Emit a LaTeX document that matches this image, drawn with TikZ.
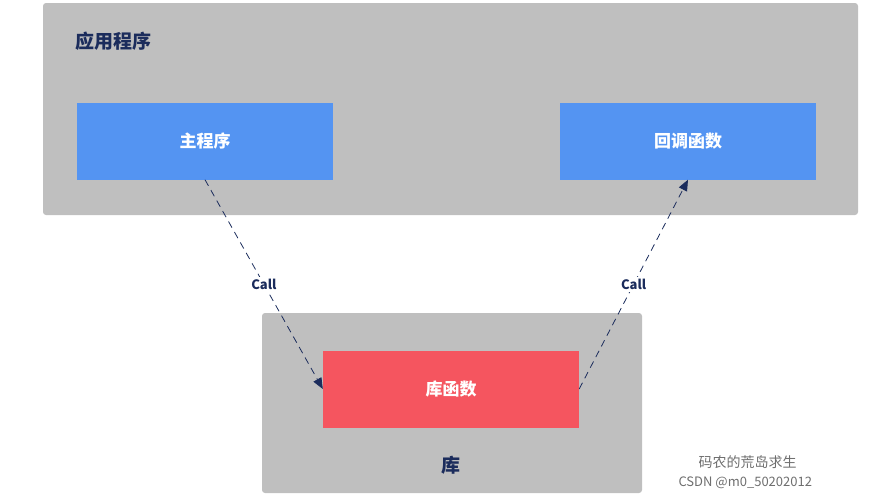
\documentclass[tikz,border=0pt]{standalone}
\usepackage{fontspec}
\setmainfont{Noto Sans CJK SC}
\usetikzlibrary{arrows.meta}
\definecolor{grayb}{HTML}{BFBFBF}
\definecolor{blueb}{HTML}{5494F2}
\definecolor{redb}{HTML}{F5555F}
\definecolor{navy}{HTML}{1B2C5C}
\definecolor{wm}{HTML}{6E6E6E}
\begin{document}
\begin{tikzpicture}[x=1pt,y=-1pt,
  panel/.style={fill=grayb,draw=none,rounded corners=3pt},
  card/.style={draw=none,minimum width=256pt,minimum height=77pt,text=white,font=\bfseries\fontsize{17}{20}\selectfont},
  ttl/.style={text=navy,font=\bfseries\fontsize{19}{22}\selectfont},
  call/.style={draw=navy,thick,dash pattern=on 7pt off 5pt,-{Triangle[length=11pt,width=9pt]}},
  lbl/.style={text=navy,font=\bfseries\fontsize{13}{15}\selectfont,fill=white,inner sep=2pt}]
\useasboundingbox (0,0) rectangle (895,501);
\fill[panel] (43,3) rectangle (858,215);
\fill[panel] (262,313) rectangle (642,493);
\node[ttl,anchor=west] (app) at (72,41) {应用程序};
\node[ttl] (libt) at (451,465) {库};
\node[card,fill=blueb] (main) at (205,141) {主程序};
\node[card,fill=blueb] (cb) at (688,141) {回调函数};
\node[card,fill=redb] (lib) at (451,389) {库函数};
\draw[call] (main.south) -- node[lbl,pos=0.5] {Call} (lib.west);
\draw[call] (lib.east) -- node[lbl,pos=0.5] {Call} (cb.south);
\node[text=wm,font=\fontsize{14}{16}\selectfont,anchor=west] (wm1) at (695,462) {码农的荒岛求生};
\node[text=wm,font=\fontsize{13}{15}\selectfont,anchor=west] (wm2) at (675,483) {CSDN @m0\_50202012};
\end{tikzpicture}
\end{document}
